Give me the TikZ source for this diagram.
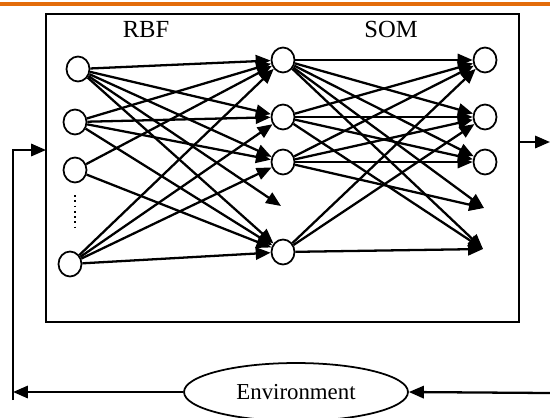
\documentclass[tikz,border=0pt]{standalone}
\usepackage{fontspec}
\setmainfont{Liberation Serif}
\usetikzlibrary{arrows.meta,shapes.geometric}
\definecolor{barorange}{RGB}{227,108,10}

\begin{document}
\begin{tikzpicture}[x=0.02cm,y=-0.02cm,>={Triangle[length=8.5pt,width=7pt]},
  neuron/.style={draw,ellipse,line width=1pt,minimum width=0.46cm,minimum height=0.5cm,inner sep=0pt},
  link/.style={->,line width=1.3pt},
  every node/.style={font=\fontsize{14}{16}\selectfont}]
\useasboundingbox (0,0) rectangle (550,417);
\draw[barorange,line width=2.6pt] (0,4) -- (550,4);
% network box
\node[draw,line width=1.2pt,outer sep=0pt,minimum width=9.46cm,minimum height=6.16cm] (net) at (282.5,168) {};
\node (rbf) at (146,29) {RBF};
\node (som) at (391,29) {SOM};
% neurons
\foreach \n/\x/\y in {i1/78/69,i2/75/122,i3/75/170,i4/70/264,
                      h1/283/60,h2/283/117,h3/283/162,h4/283/252,
                      o1/485/60,o2/485/117,o3/485/162}
  \node[neuron] (\n) at (\x,\y) {};
\coordinate (d0) at (281,206);
\coordinate (d1) at (484,208);
\coordinate (d2) at (483,249);
\draw[dotted,line width=1pt] (75,195) -- (75,227);
% RBF layer
\foreach \a/\b in {i1/h1,i1/h2,i1/h3,i1/d0,i1/h4,i2/h1,i2/h2,i2/h3,i2/h4,
                   i3/h1,i3/h4,i4/h1,i4/h2,i4/h3,i4/h4}
  \draw[link] (\a) -- (\b);
% SOM layer
\foreach \a/\b in {h1/o1,h1/o2,h1/o3,h1/d1,h1/d2,h2/o1,h2/o2,h2/o3,h2/d2,
                   h3/o1,h3/o2,h3/o3,h3/d1,h4/o1,h4/o2,h4/d2}
  \draw[link] (\a) -- (\b);
% environment loop
\node[draw,ellipse,line width=1pt,minimum width=4.48cm,minimum height=1.16cm,inner sep=0pt,
  font=\fontsize{13}{15}\selectfont] (env) at (296,392) {Environment};
\coordinate (fbtop) at (13,150);
\coordinate (fbbot) at (13,400);
\coordinate (rin) at (550,393);
\coordinate (rout) at (550,142);
\draw[link] (fbbot) -- (fbtop) -- (net.west |- fbtop);
\draw[link] (env.west) -- (fbbot |- env.west);
\draw[link] (rin) -- (env.east);
\draw[link] (net.east |- rout) -- (rout);
\end{tikzpicture}
\end{document}
